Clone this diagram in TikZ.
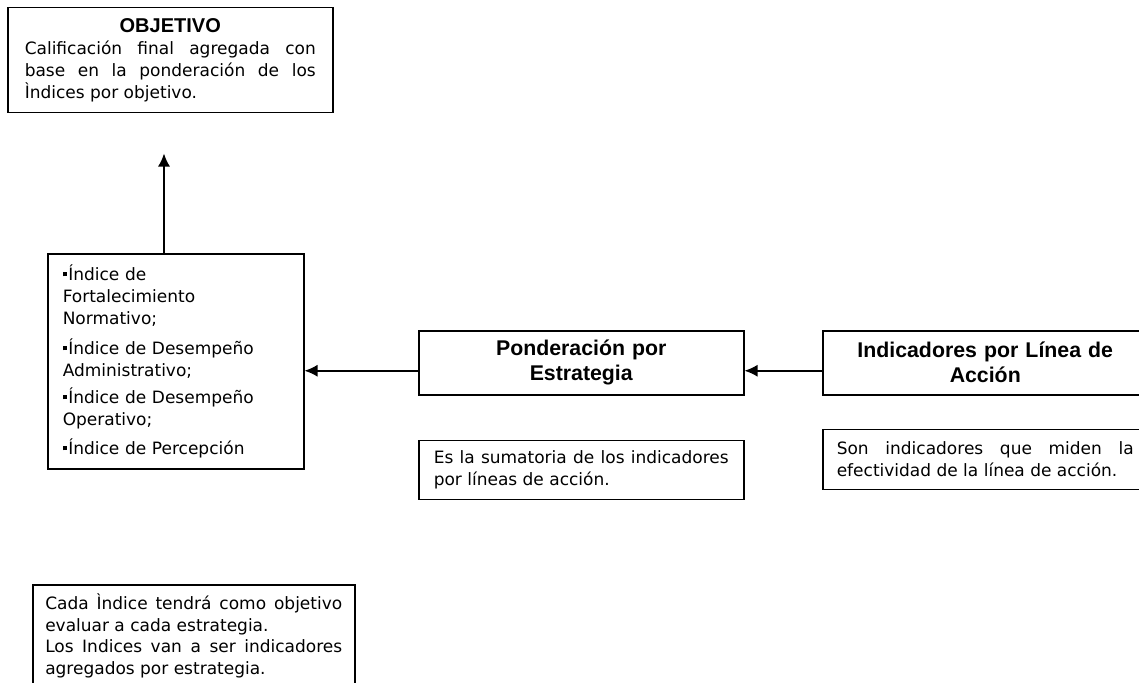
\documentclass[tikz,border=0pt]{standalone}
\usepackage{fontspec}
\setmainfont{DejaVu Sans}
\newfontfamily\headfont{Liberation Sans}
\usetikzlibrary{positioning,arrows.meta}

\newcommand{\sqbul}{\rule[4pt]{4pt}{4pt}\hspace{1.5pt}}
\hyphenpenalty=10000

\begin{document}
\begin{tikzpicture}[x=1pt,y=-1pt,
			box/.style={draw,line width=1.5pt,rectangle,inner sep=0pt,anchor=north west},
			headbox/.style={box,minimum width=325pt,minimum height=64pt,text width=300pt,align=center,
				font=\headfont\bfseries\fontsize{21.3}{25}\selectfont},
			notebox/.style={box,minimum width=325pt,text width=295pt,align=justify,
				font=\fontsize{17}{22}\selectfont},
			link/.style={-{Latex[length=13pt,width=12pt]},line width=1.5pt}]
			\clip (0,0) rectangle (1139,682);
			\fill[white] (0,0) rectangle (1139,682);

			\node (obj) [box,minimum width=325pt,minimum height=105pt,text width=291pt,align=justify,
				font=\fontsize{17}{21.7}\selectfont] at (7,7)
				{\makebox[\linewidth]{\headfont\bfseries\fontsize{20}{22}\selectfont OBJETIVO}\par
				Calificación final agregada con base en la ponderación de los Ìndices por objetivo.};

			\node (idx) [box,minimum width=256pt,minimum height=215pt,text width=226pt,align=left,
				font=\fontsize{17}{22}\selectfont] at (47,253)
				{\sqbul Índice de\\ Fortalecimiento\\ Normativo;\\[8pt]
				\sqbul Índice de Desempeño\\ Administrativo;\\[5pt]
				\sqbul Índice de Desempeño\\ Operativo;\\[7pt]
				\sqbul Índice de Percepción};

			\node (pond) [headbox] at (418,330) {Ponderación por\\ Estrategia};
			\node (ind) [headbox] at (822,330) {Indicadores por Línea de\\ Acción};

			\node (sum) [notebox,minimum height=59pt,below=44pt of pond] {Es la sumatoria de los indicadores\linebreak por líneas de acción.};
			\node (son) [notebox,minimum height=60pt,text width=297pt,below=33pt of ind] {Son indicadores que miden la\linebreak efectividad de la línea de acción.};

			\node (cada) [box,minimum width=322pt,text width=297pt,align=justify,inner ysep=9pt,
				font=\fontsize{17}{21.5}\selectfont] at (32,584)
				{Cada Ìndice tendrá como objetivo evaluar a cada estrategia.\par
				Los Indices van a ser indicadores agregados por estrategia.};

			% flechas
			\coordinate (objend) at ([yshift=-40pt]obj.south);
			\draw [link] (idx.north -| 164,0) -- (objend -| 164,0);
			\draw [link] ([yshift=-8pt]pond.west) -- ([yshift=-8pt]pond.west -| idx.east);
			\draw [link] ([yshift=-8pt]ind.west) -- ([yshift=-8pt]pond.east);
		\end{tikzpicture}
\end{document}
